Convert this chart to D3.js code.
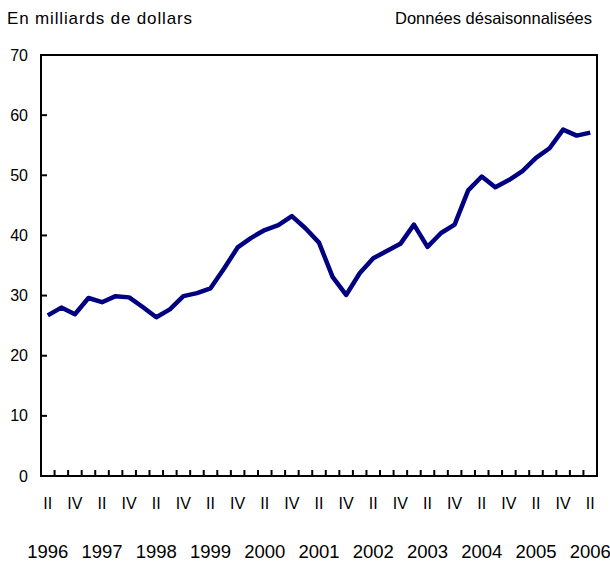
<!DOCTYPE html>
<html>
<head>
<meta charset="utf-8">
<script src="https://cdn.jsdelivr.net/npm/d3@7"></script>
<style>
  body { margin: 0; background: #fff; }
  text { font-family: "Liberation Sans", Arial, sans-serif; fill: #000; }
</style>
</head>
<body>
<script>
// quarters from 1996 II to 2006 II
const periods = [
  "1996 II","1996 III","1996 IV","1997 I","1997 II","1997 III","1997 IV",
  "1998 I","1998 II","1998 III","1998 IV","1999 I","1999 II","1999 III","1999 IV",
  "2000 I","2000 II","2000 III","2000 IV","2001 I","2001 II","2001 III","2001 IV",
  "2002 I","2002 II","2002 III","2002 IV","2003 I","2003 II","2003 III","2003 IV",
  "2004 I","2004 II","2004 III","2004 IV","2005 I","2005 II","2005 III","2005 IV",
  "2006 I","2006 II"
];
const values = [
  26.7,28.0,26.9,29.6,28.9,29.9,29.7,28.1,26.4,27.7,
  29.9,30.4,31.2,34.5,38.0,39.6,40.9,41.7,43.2,41.2,
  38.8,33.1,30.1,33.7,36.2,37.4,38.6,41.8,38.1,40.4,
  41.8,47.5,49.8,48.0,49.2,50.7,52.9,54.5,57.6,56.6,57.1
];
const yTicks = [0,10,20,30,40,50,60,70];
const shownQuarters = ["II","IV"];
const titleLeft = "En milliards de dollars";
const titleRight = "Données désaisonnalisées";

const width = 610, height = 562;
const margin = {top: 55, right: 13, bottom: 86, left: 41};

const svg = d3.select("body").append("svg")
  .attr("width", width)
  .attr("height", height);

const x = d3.scaleBand()
  .domain(periods)
  .range([margin.left, width - margin.right]);

const y = d3.scaleLinear()
  .domain([0, 70])
  .range([height - margin.bottom, margin.top]);

// titles
svg.append("text")
  .attr("x", 7).attr("y", 24)
  .attr("font-size", "17px")
  .attr("textLength", 185)
  .text(titleLeft);
svg.append("text")
  .attr("x", 395).attr("y", 24)
  .attr("font-size", "16.5px")
  .attr("textLength", 197)
  .text(titleRight);

// y ticks (inward) and labels
svg.selectAll(".ytick")
  .data(yTicks.filter(d => d > 0 && d < 70))
  .enter().append("line")
  .attr("x1", margin.left).attr("x2", margin.left + 6)
  .attr("y1", d => y(d)).attr("y2", d => y(d))
  .attr("stroke", "#000").attr("stroke-width", 2);

svg.selectAll(".ylab")
  .data(yTicks)
  .enter().append("text")
  .attr("x", 28)
  .attr("y", d => y(d))
  .attr("dy", "0.35em")
  .attr("text-anchor", "end")
  .attr("font-size", "16px")
  .text(d => d);

// x ticks at band boundaries
const xBounds = periods.slice(1).map(p => x(p));
svg.selectAll(".xtick")
  .data(xBounds)
  .enter().append("line")
  .attr("x1", d => d).attr("x2", d => d)
  .attr("y1", y(0)).attr("y2", y(0) - 6)
  .attr("stroke", "#000").attr("stroke-width", 2);

// quarter labels
const qLabels = periods.filter(p => shownQuarters.includes(p.split(" ")[1]));
svg.selectAll(".qlab")
  .data(qLabels)
  .enter().append("text")
  .attr("x", d => x(d) + x.bandwidth() / 2)
  .attr("y", 509)
  .attr("text-anchor", "middle")
  .attr("font-size", "16px")
  .text(d => d.split(" ")[1]);

// year labels under the II quarter
const yLabels = periods.filter(p => p.split(" ")[1] === "II");
svg.selectAll(".ylabyear")
  .data(yLabels)
  .enter().append("text")
  .attr("x", d => x(d) + x.bandwidth() / 2)
  .attr("y", 558)
  .attr("text-anchor", "middle")
  .attr("font-size", "18.5px")
  .text(d => d.split(" ")[0]);

// frame
svg.append("rect")
  .attr("x", margin.left).attr("y", margin.top)
  .attr("width", width - margin.left - margin.right)
  .attr("height", height - margin.top - margin.bottom)
  .attr("fill", "none")
  .attr("stroke", "#000").attr("stroke-width", 2);

// line
const line = d3.line()
  .x((d, i) => x(periods[i]) + x.bandwidth() / 2)
  .y(d => y(d));

svg.append("path")
  .datum(values)
  .attr("d", line)
  .attr("fill", "none")
  .attr("stroke", "#000080")
  .attr("stroke-width", 4.5)
  .attr("stroke-linejoin", "round");
</script>
</body>
</html>
